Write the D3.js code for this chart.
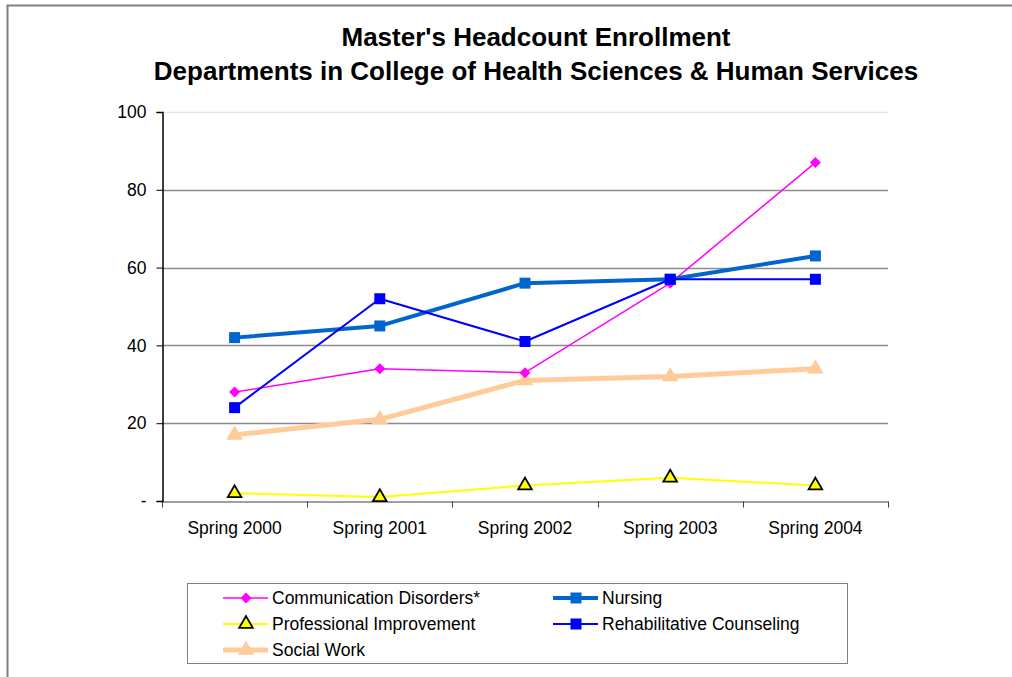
<!DOCTYPE html>
<html>
<head>
<meta charset="utf-8">
<script src="https://cdn.jsdelivr.net/npm/d3@7"></script>
<style>
  body { margin: 0; background: #fff; }
  svg { font-family: "Liberation Sans", Arial, sans-serif; }
</style>
</head>
<body>
<svg id="chart"></svg>
<script>
const width = 1012;
const height = 677;

const titleLines = ["Master's Headcount Enrollment", "Departments in College of Health Sciences & Human Services"];
const semesters = ["Spring 2000", "Spring 2001", "Spring 2002", "Spring 2003", "Spring 2004"];
const yTicks = [0, 20, 40, 60, 80, 100];

const commDisorders = [28, 34, 33, 56, 87];
const nursing = [42, 45, 56, 57, 63];
const profImprovement = [2, 1, 4, 6, 4];
const rehabCounseling = [24, 52, 41, 57, 57];
const socialWork = [17, 21, 31, 32, 34];

const seriesNames = ["Communication Disorders*", "Nursing", "Professional Improvement", "Rehabilitative Counseling", "Social Work"];

const series = [
    { name: seriesNames[0], values: commDisorders, color: "#FF00FF", lw: 1.5, marker: "diamond", size: 100, fill: "#FF00FF", stroke: "none" },
    { name: seriesNames[1], values: nursing, color: "#0066CC", lw: 4, marker: "square", size: 121, fill: "#0066CC", stroke: "none" },
    { name: seriesNames[2], values: profImprovement, color: "#FFFF00", lw: 2, marker: "triangle", size: 80, fill: "#FFFF00", stroke: "#000" },
    { name: seriesNames[3], values: rehabCounseling, color: "#0000FF", lw: 2, marker: "square", size: 121, fill: "#0000FF", stroke: "none" },
    { name: seriesNames[4], values: socialWork, color: "#FFCC99", lw: 5, marker: "triangle", size: 120, fill: "#FFCC99", stroke: "none" }
];

const margin = { top: 112, left: 162, right: 124, bottom: 176 };

const svg = d3.select("#chart")
    .attr("width", width)
    .attr("height", height);

// outer frame
svg.append("path")
    .attr("d", `M7.5,${height} L7.5,5.5 L${width},5.5`)
    .attr("fill", "none")
    .attr("stroke", "#808080")
    .attr("stroke-width", 2);

// title
svg.selectAll(".title")
    .data(titleLines)
    .enter()
    .append("text")
    .attr("class", "title")
    .attr("x", 536)
    .attr("y", (d, i) => 46 + i * 34)
    .attr("text-anchor", "middle")
    .style("font-size", "26px")
    .style("font-weight", "bold")
    .text(d => d);

const xScale = d3.scaleBand()
    .domain(semesters)
    .range([margin.left, width - margin.right]);

const yScale = d3.scaleLinear()
    .domain([0, 100])
    .range([height - margin.bottom, margin.top]);

const xPos = i => xScale(semesters[i]) + xScale.bandwidth() / 2;

// gridlines
svg.append("g")
    .selectAll("line")
    .data(yTicks.filter(d => d > 0))
    .enter()
    .append("line")
    .attr("x1", margin.left)
    .attr("x2", width - margin.right)
    .attr("y1", d => Math.round(yScale(d)) + 0.5)
    .attr("y2", d => Math.round(yScale(d)) + 0.5)
    .attr("stroke", d => d === 100 ? "#e6e6e6" : "#8c8c8c")
    .attr("stroke-width", 1.5);

// x axis
const xAxis = d3.axisBottom(xScale).tickSize(0).tickPadding(20);
const gx = svg.append("g")
    .attr("transform", `translate(0, ${Math.round(yScale(0)) + 0.5})`)
    .call(xAxis);
gx.select(".domain").attr("stroke", "#808080").attr("stroke-width", 1.5);
gx.selectAll("text")
    .style("font-size", "17.5px")
    .style("font-family", "'Liberation Sans', Arial, sans-serif")
    .attr("fill", "#000");
// boundary tick marks
gx.selectAll(".bound")
    .data(d3.range(semesters.length + 1))
    .enter()
    .append("line")
    .attr("class", "bound")
    .attr("x1", i => Math.round(margin.left + i * xScale.bandwidth()) + 0.5)
    .attr("x2", i => Math.round(margin.left + i * xScale.bandwidth()) + 0.5)
    .attr("y1", 0)
    .attr("y2", 6)
    .attr("stroke", "#404040");

// y axis
const yAxis = d3.axisLeft(yScale)
    .tickValues(yTicks)
    .tickSize(6)
    .tickPadding(10)
    .tickFormat(d => d === 0 ? "-" : d);
const gy = svg.append("g")
    .attr("transform", `translate(${margin.left + 0.5}, 0)`)
    .call(yAxis);
gy.select(".domain").attr("stroke", "#000").attr("stroke-width", 1.5);
gy.selectAll(".tick line").attr("stroke", "#000");
gy.selectAll("text")
    .style("font-size", "17.5px")
    .style("font-family", "'Liberation Sans', Arial, sans-serif")
    .attr("fill", "#000");

function markerPath(s) {
    if (s.marker === "diamond") {
        const r = 5.5;
        return `M0,${-r}L${r},0L0,${r}L${-r},0Z`;
    }
    if (s.marker === "square") {
        const r = Math.sqrt(s.size) / 2;
        return `M${-r},${-r}H${r}V${r}H${-r}Z`;
    }
    return d3.symbol(d3.symbolTriangle, s.size)();
}

const line = d3.line()
    .x((d, i) => xPos(i))
    .y(d => yScale(d));

// draw order: social work, prof improvement, comm disorders, nursing, rehab
const drawOrder = [4, 2, 0, 1, 3];
drawOrder.forEach(k => {
    const s = series[k];
    const g = svg.append("g");
    g.append("path")
        .datum(s.values)
        .attr("d", line)
        .attr("fill", "none")
        .attr("stroke", s.color)
        .attr("stroke-width", s.lw)
        .attr("stroke-linejoin", "round");
    g.selectAll("path.mk")
        .data(s.values)
        .enter()
        .append("path")
        .attr("class", "mk")
        .attr("transform", (d, i) => `translate(${xPos(i)}, ${yScale(d)})`)
        .attr("d", markerPath(s))
        .attr("fill", s.fill)
        .attr("stroke", s.stroke)
        .attr("stroke-width", s.stroke === "none" ? 0 : 1.8);
});

// legend
const legend = svg.append("g");
legend.append("rect")
    .attr("x", 187.5)
    .attr("y", 583.5)
    .attr("width", 660)
    .attr("height", 80)
    .attr("fill", "#fff")
    .attr("stroke", "#808080")
    .attr("stroke-width", 1);

const legendPos = [
    { x: 223, y: 598 },
    { x: 553, y: 598 },
    { x: 223, y: 624 },
    { x: 553, y: 624 },
    { x: 223, y: 650 }
];

series.forEach((s, k) => {
    const p = legendPos[k];
    const g = legend.append("g").attr("transform", `translate(${p.x}, ${p.y})`);
    g.append("line")
        .attr("x1", 0)
        .attr("x2", 45)
        .attr("stroke", s.color)
        .attr("stroke-width", s.lw);
    g.append("path")
        .attr("transform", "translate(23, 0)")
        .attr("d", markerPath(s))
        .attr("fill", s.fill)
        .attr("stroke", s.stroke)
        .attr("stroke-width", s.stroke === "none" ? 0 : 1.8);
    g.append("text")
        .attr("x", 49)
        .attr("y", 6)
        .style("font-size", "17.5px")
        .text(s.name);
});
</script>
</body>
</html>
